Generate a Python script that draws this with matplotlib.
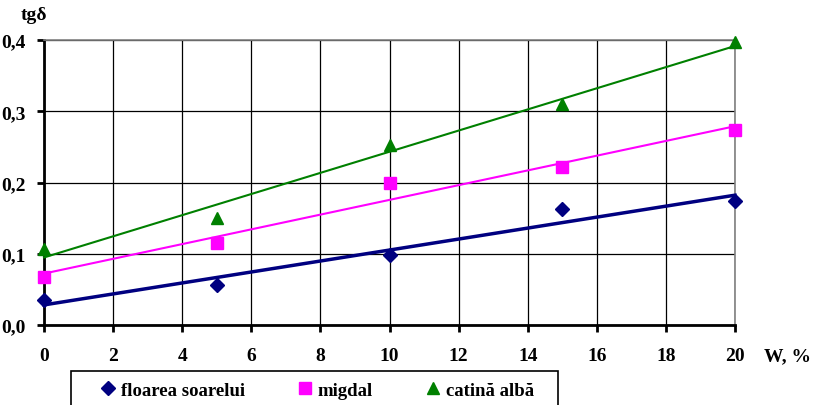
import numpy as np
import matplotlib
matplotlib.use("Agg")
import matplotlib.pyplot as plt
from matplotlib.patches import Rectangle

plt.rcParams['font.family'] = ['Liberation Serif', 'DejaVu Serif']
plt.rcParams['font.weight'] = 'bold'

x = [0, 5, 10, 15, 20]
floarea = [0.035, 0.056, 0.098, 0.163, 0.174]
migdal = [0.068, 0.115, 0.200, 0.222, 0.273]
catina = [0.106, 0.150, 0.253, 0.310, 0.397]
labels = ["floarea soarelui", "migdal", "catină albă"]
xticks = [0, 2, 4, 6, 8, 10, 12, 14, 16, 18, 20]
yticks = [0.0, 0.1, 0.2, 0.3, 0.4]
ytick_labels = ["0,0", "0,1", "0,2", "0,3", "0,4"]

W, H = 814, 406
fig = plt.figure(figsize=(W/100, H/100), dpi=100)
ax = fig.add_axes([44/W, 1-326/H, (735-44)/W, (326-41)/H])

series = [
    (floarea, '#000080', 'D', 7, 2.5),
    (migdal, '#FF00FF', 's', 8, 1.5),
    (catina, '#008000', '^', 9, 1.5),
]
xa = np.array(x, dtype=float)
handles = []
for (ys, col, m, ms, lw), lab in zip(series, labels):
    h, = ax.plot(x, ys, linestyle='none', marker=m, color=col, markersize=ms, label=lab, clip_on=False, zorder=4)
    handles.append(h)
    k, b = np.polyfit(xa, np.array(ys), 1)
    xx = np.array([0, 20])
    ax.plot(xx, k*xx + b, color=col, lw=lw, zorder=3, clip_on=False)

ax.set_xlim(0, 20)
ax.set_ylim(0, 0.4)
ax.set_xticks(xticks)
ax.set_yticks(yticks)
ax.set_yticklabels(ytick_labels)
ax.grid(True, color='black', lw=0.9)
ax.set_axisbelow(True)
for s in ['top', 'right']:
    ax.spines[s].set_color('#808080')
    ax.spines[s].set_linewidth(1.2)
for s in ['left', 'bottom']:
    ax.spines[s].set_color('black')
    ax.spines[s].set_linewidth(2)
ax.tick_params(direction='out', length=5, width=2, labelsize=14, pad=11)
ax.tick_params(axis='y', pad=8)
for t in ax.get_xticklabels() + ax.get_yticklabels():
    t.set_fontweight('bold')

fig.text(34/W, 1-16/H, "tgδ", fontsize=14, fontweight='bold', ha='center', va='center')
fig.text(787/W, 1-357/H, "W, %", fontsize=14, fontweight='bold', ha='center', va='center')

# legend box
fig.patches.append(Rectangle((71/W, -0.05), (558-71)/W, 0.05 + (406-372)/H, transform=fig.transFigure,
                             facecolor='white', edgecolor='black', lw=1.2, zorder=0))
leg = fig.legend(handles=handles, loc='center left', bbox_to_anchor=(100/W, 1-391/H),
                 ncol=3, frameon=False,
                 prop={'weight': 'bold', 'size': 13.5}, handletextpad=0.3, columnspacing=2.8,
                 borderpad=0, handlelength=0.8, borderaxespad=0)

fig.savefig("out.png", dpi=100)
